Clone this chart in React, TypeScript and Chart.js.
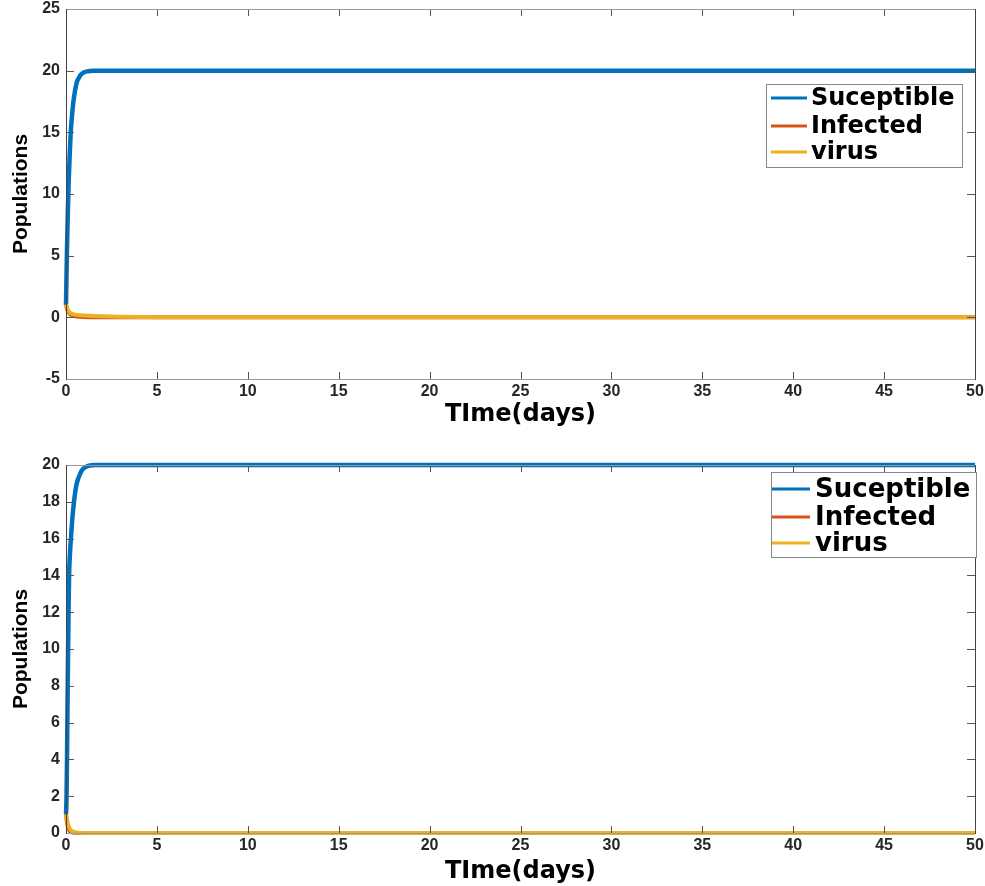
import React, { useEffect, useRef } from "react";
import { Chart, registerables } from "chart.js";

Chart.register(...registerables);

// ---------- Data ----------
const SERIES_NAMES = ["Suceptible", "Infected", "virus"];
const SERIES_COLORS = ["#0072BD", "#D95319", "#EDB120"];

// Top panel
const T_S_TOP = [0, 0.02, 0.05, 0.1, 0.15, 0.2, 0.26, 0.3, 0.4, 0.5, 0.6, 0.7, 0.8, 1.0, 1.2, 1.5, 2, 3, 4, 5, 10, 20, 30, 40, 50];
const S_TOP = [1.0, 2.8, 5.2, 8.5, 11.1, 13.0, 15.0, 15.8, 17.4, 18.4, 19.1, 19.4, 19.65, 19.87, 19.95, 19.99, 20, 20, 20, 20, 20, 20, 20, 20, 20];
const T_I_TOP = [0, 0.05, 0.1, 0.2, 0.3, 0.5, 0.8, 1, 1.5, 2, 3, 5, 10, 20, 30, 40, 50];
const I_TOP = [1.0, 0.7, 0.5, 0.3, 0.18, 0.08, 0.04, 0.02, 0.01, 0, 0, 0, 0, 0, 0, 0, 0];
const T_V_TOP = [0, 0.05, 0.1, 0.2, 0.3, 0.5, 0.8, 1, 1.5, 2, 3, 5, 10, 20, 30, 40, 50];
const V_TOP = [1.05, 0.8, 0.6, 0.4, 0.3, 0.22, 0.17, 0.15, 0.11, 0.08, 0.04, 0.01, 0, 0, 0, 0, 0];

// Bottom panel
const T_S_BOT = [0, 0.03, 0.06, 0.1, 0.14, 0.17, 0.22, 0.27, 0.35, 0.44, 0.55, 0.65, 0.77, 0.9, 1.1, 1.3, 1.6, 2, 5, 10, 20, 30, 40, 50];
const S_BOT = [1.0, 2.0, 4.5, 8.5, 12.0, 14.0, 15.2, 16.0, 17.1, 18.0, 18.8, 19.2, 19.5, 19.75, 19.9, 19.97, 20, 20, 20, 20, 20, 20, 20, 20];
const T_I_BOT = [0, 0.05, 0.1, 0.2, 0.3, 0.5, 1, 2, 5, 10, 20, 30, 40, 50];
const I_BOT = [1.0, 0.6, 0.35, 0.12, 0.05, 0.01, 0, 0, 0, 0, 0, 0, 0, 0];
const T_V_BOT = [0, 0.05, 0.1, 0.2, 0.3, 0.4, 0.6, 1, 2, 5, 10, 20, 30, 40, 50];
const V_BOT = [1.0, 0.75, 0.5, 0.25, 0.12, 0.06, 0.02, 0.005, 0, 0, 0, 0, 0, 0, 0];

const X_MIN = 0, X_MAX = 50, X_STEP = 5;
const Y_TOP_MIN = -5, Y_TOP_MAX = 25, Y_TOP_STEP = 5;
const Y_BOT_MIN = 0, Y_BOT_MAX = 20, Y_BOT_STEP = 2;

const X_TITLE = "TIme(days)";
const Y_TITLE = "Populations";

const FONT = "'DejaVu Sans', 'Liberation Sans', Arial, sans-serif";
const TICK_FONT = "'Liberation Sans', Arial, sans-serif";

const pts = (xs: number[], ys: number[]) => xs.map((x, i) => ({ x, y: ys[i] }));

type LegendCfg = {
  x0: number; y0: number; x1: number; y1: number;
  rows: number[]; lineX0: number; lineX1: number; textX: number; fontSize: number;
};

const makeBoxPlugin = (legend: LegendCfg) => ({
  id: "matlabBox",
  afterDraw(chart: any) {
    const { ctx, chartArea: a, scales } = chart;
    const xs = scales.x, ys = scales.y;
    ctx.save();
    ctx.lineWidth = 1;
    ctx.strokeStyle = "#555";
    ctx.beginPath();
    xs.ticks.forEach((t: any) => {
      const px = Math.round(xs.getPixelForValue(t.value)) + 0.5;
      if (px <= a.left + 1 || px >= a.right - 1) return;
      ctx.moveTo(px, a.bottom); ctx.lineTo(px, a.bottom - 7);
      ctx.moveTo(px, a.top); ctx.lineTo(px, a.top + 7);
    });
    ys.ticks.forEach((t: any) => {
      const py = Math.round(ys.getPixelForValue(t.value)) + 0.5;
      if (py <= a.top + 1 || py >= a.bottom - 1) return;
      ctx.moveTo(a.left, py); ctx.lineTo(a.left + 8, py);
      ctx.moveTo(a.right, py); ctx.lineTo(a.right - 8, py);
    });
    ctx.stroke();
    ctx.strokeStyle = "#999";
    ctx.beginPath();
    ctx.moveTo(a.left, Math.round(a.top) + 0.5); ctx.lineTo(a.right, Math.round(a.top) + 0.5);
    ctx.moveTo(a.left, Math.round(a.bottom) + 0.5); ctx.lineTo(a.right, Math.round(a.bottom) + 0.5);
    ctx.stroke();
    ctx.strokeStyle = "#444";
    ctx.beginPath();
    ctx.moveTo(Math.round(a.left) + 0.5, a.top); ctx.lineTo(Math.round(a.left) + 0.5, a.bottom + 1);
    ctx.moveTo(Math.round(a.right) + 0.5, a.top); ctx.lineTo(Math.round(a.right) + 0.5, a.bottom + 1);
    ctx.stroke();

    const L = legend;
    ctx.fillStyle = "#fff";
    ctx.fillRect(L.x0, L.y0, L.x1 - L.x0, L.y1 - L.y0);
    ctx.strokeStyle = "#888";
    ctx.strokeRect(L.x0 + 0.5, L.y0 + 0.5, L.x1 - L.x0, L.y1 - L.y0);
    ctx.font = `bold ${L.fontSize}px ${FONT}`;
    ctx.textBaseline = "middle";
    ctx.textAlign = "left";
    SERIES_NAMES.forEach((name, i) => {
      const y = L.rows[i];
      ctx.strokeStyle = SERIES_COLORS[i];
      ctx.lineWidth = 3;
      ctx.beginPath();
      ctx.moveTo(L.lineX0, y); ctx.lineTo(L.lineX1, y);
      ctx.stroke();
      ctx.fillStyle = "#000";
      ctx.fillText(name, L.textX, y + 1);
    });
    ctx.restore();
  },
});

type PanelProps = {
  height: number;
  axisHeight: number;
  padTop: number;
  titlePadBottom: number;
  yMin: number; yMax: number; yStep: number;
  sets: { x: number; y: number }[][];
  legend: LegendCfg;
};

function Panel(p: PanelProps) {
  const ref = useRef<HTMLCanvasElement | null>(null);
  useEffect(() => {
    if (!ref.current) return;
    const datasets = p.sets.map((d, i) => ({
      label: SERIES_NAMES[i],
      data: d,
      borderColor: SERIES_COLORS[i],
      backgroundColor: SERIES_COLORS[i],
      borderWidth: i === 0 ? 4.5 : 4,
      pointRadius: 0,
      fill: false,
      cubicInterpolationMode: "monotone" as const,
      order: 2 - i,
      clip: 6,
    }));
    const chart = new Chart(ref.current, {
      type: "line",
      data: { datasets },
      options: {
        animation: false,
        responsive: false,
        maintainAspectRatio: false,
        layout: { padding: { top: p.padTop, right: 10, left: 0, bottom: 0 } },
        plugins: { legend: { display: false }, tooltip: { enabled: false } },
        scales: {
          x: {
            type: "linear",
            min: X_MIN, max: X_MAX,
            ticks: {
              stepSize: X_STEP, autoSkip: false, maxRotation: 0, padding: 3,
              color: "#262626", font: { family: TICK_FONT, size: 16, weight: "bold" },
            },
            grid: { display: false, drawTicks: false },
            border: { display: false },
            title: {
              display: true, text: X_TITLE, color: "#000",
              font: { family: FONT, size: 24, weight: "bold" },
              padding: { top: 0, bottom: p.titlePadBottom },
            },
            afterFit: (s: any) => { s.height = p.axisHeight; s.paddingLeft = 0; s.paddingRight = 0; },
          },
          y: {
            type: "linear",
            min: p.yMin, max: p.yMax,
            ticks: {
              stepSize: p.yStep, autoSkip: false, padding: 6,
              color: "#262626", font: { family: TICK_FONT, size: 16, weight: "bold" },
            },
            grid: { display: false, drawTicks: false },
            border: { display: false },
            title: {
              display: true, text: Y_TITLE, color: "#000",
              font: { family: TICK_FONT, size: 21, weight: "bold" },
              padding: { top: 9, bottom: 0 },
            },
            afterFit: (s: any) => { s.width = 66; s.paddingTop = 0; s.paddingBottom = 0; },
          },
        },
      },
      plugins: [makeBoxPlugin(p.legend)],
    } as any);
    return () => chart.destroy();
  }, []);
  return (
    <canvas
      ref={ref}
      width={985}
      height={p.height}
      style={{ display: "block", width: 985, height: p.height }}
    />
  );
}

export default function App() {
  return (
    <div style={{ position: "absolute", left: 0, top: 0, width: 985, height: 886, background: "#fff" }}>
      <Panel
        height={440}
        axisHeight={61}
        padTop={9}
        titlePadBottom={11}
        yMin={Y_TOP_MIN} yMax={Y_TOP_MAX} yStep={Y_TOP_STEP}
        sets={[pts(T_S_TOP, S_TOP), pts(T_I_TOP, I_TOP), pts(T_V_TOP, V_TOP)]}
        legend={{ x0: 766, y0: 84, x1: 962, y1: 167, rows: [98, 126, 152], lineX0: 771, lineX1: 807, textX: 811, fontSize: 24 }}
      />
      <Panel
        height={446}
        axisHeight={53}
        padTop={25}
        titlePadBottom={0}
        yMin={Y_BOT_MIN} yMax={Y_BOT_MAX} yStep={Y_BOT_STEP}
        sets={[pts(T_S_BOT, S_BOT), pts(T_I_BOT, I_BOT), pts(T_V_BOT, V_BOT)]}
        legend={{ x0: 771, y0: 32, x1: 976, y1: 117, rows: [49, 77, 103], lineX0: 772, lineX1: 810, textX: 815, fontSize: 26 }}
      />
    </div>
  );
}
